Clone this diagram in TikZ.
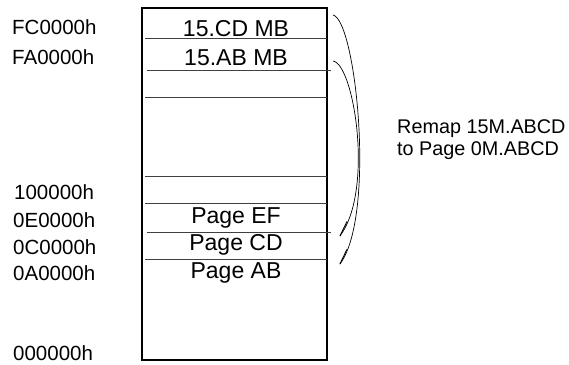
\documentclass[tikz,border=0pt]{standalone}
\usepackage{fontspec}
\setmainfont{Liberation Sans}
\usetikzlibrary{arrows.meta}

\begin{document}
\begin{tikzpicture}[
x=1pt, y=-1pt,
addr/.style={anchor=base west, inner sep=0pt, font=\fontsize{20.5}{24}\selectfont},
slot/.style={anchor=base, inner sep=0pt, font=\fontsize{23}{26}\selectfont},
note/.style={anchor=base west, inner sep=0pt, font=\fontsize{19.8}{24}\selectfont},
divider/.style={line width=0.8pt, black!75},
remap/.style={line width=0.7pt, -{Straight Barb[harpoon, swap, length=16pt, width=6pt, line width=0.9pt]}}
]
\useasboundingbox (0,0) rectangle (569,364);

% memory block
\node[draw, line width=1.3pt, inner sep=0pt, minimum width=185pt, minimum height=352pt] (mem) at (234.5,184) {};

\draw[divider] (145,38) -- (327,38);
\draw[divider] (147,70) -- (331,70);
\draw[divider] (145,97) -- (327,97);
\draw[divider] (145,176) -- (327,176);
\draw[divider] (145,203) -- (327,203);
\draw[divider] (147,232) -- (331,232);
\draw[divider] (145,259) -- (327,259);

% addresses
\node[addr] (fc) at (12,34) {FC0000h};
\node[addr] (fa) at (12,64.5) {FA0000h};
\node[addr] (mb1) at (14,199) {100000h};
\node[addr] (pe) at (13,227) {0E0000h};
\node[addr] (pc) at (13,254) {0C0000h};
\node[addr] (pa) at (13,280.5) {0A0000h};
\node[addr] (zero) at (13,360) {000000h};

% contents
\node[slot] (cdmb) at (236,36) {15.CD MB};
\node[slot] (abmb) at (236,65) {15.AB MB};
\node[slot] (pgef) at (236,223) {Page EF};
\node[slot] (pgcd) at (236,250) {Page CD};
\node[slot] (pgab) at (236,278) {Page AB};

% remap
\coordinate (cdout) at (333,15);
\coordinate (about) at (333,61);
\coordinate (cdin) at (337,268);
\coordinate (abin) at (337,240);

\draw[remap] (cdout) .. controls (356,20) and (376,215) .. (cdin);
\draw[remap] (about) .. controls (354,64) and (374,190) .. (abin);

\node[note] (remap1) at (397,133) {Remap 15M.ABCD};
\node[note] (remap2) at (397,155) {to Page 0M.ABCD};

\end{tikzpicture}
\end{document}
